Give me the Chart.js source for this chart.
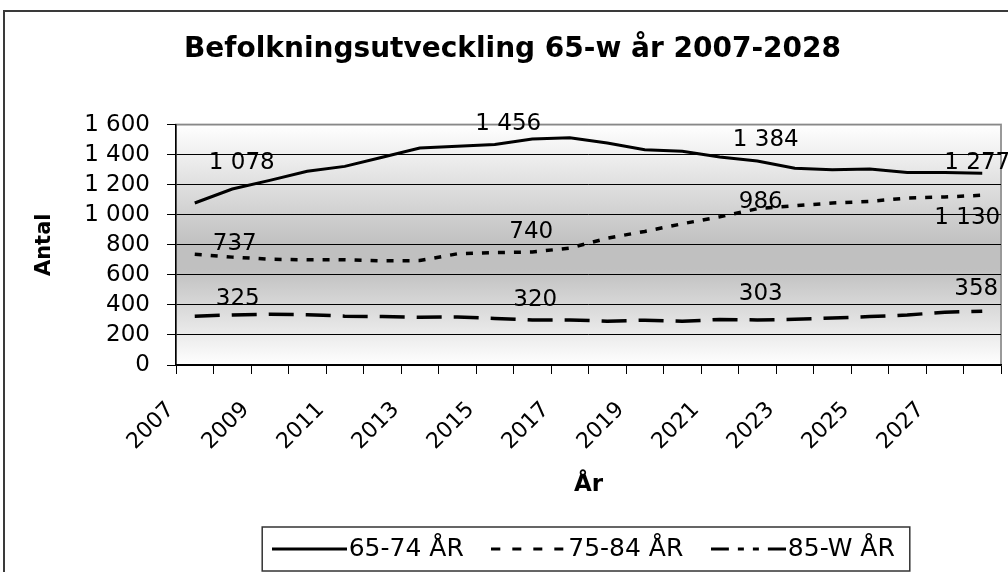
<!DOCTYPE html>
<html>
<head>
<meta charset="utf-8">
<script src="https://cdn.jsdelivr.net/npm/chart.js@4"></script>
<style>
  html, body { margin: 0; padding: 0; background: #fff; }
</style>
</head>
<body>
<canvas id="myChart" width="1008" height="572"></canvas>
<script>
const years = ["2007", "2008", "2009", "2010", "2011", "2012", "2013", "2014", "2015", "2016", "2017",
    "2018", "2019", "2020", "2021", "2022", "2023", "2024", "2025", "2026", "2027", "2028"];
const age65to74 = [1078, 1171, 1229, 1289, 1322, 1383, 1444, 1456, 1467, 1504, 1513,
    1477, 1433, 1422, 1384, 1358, 1309, 1300, 1304, 1282, 1282, 1277];
const age75to84 = [737, 718, 704, 700, 700, 693, 695, 740, 748, 752, 778,
    844, 889, 940, 986, 1040, 1060, 1078, 1089, 1111, 1118, 1130];
const age85up = [325, 333, 338, 335, 325, 322, 318, 320, 310, 300, 300,
    292, 298, 291, 303, 300, 304, 313, 322, 333, 351, 358];
const seriesNames = ["65-74 ÅR", "75-84 ÅR", "85-W ÅR"];
// years that carry a value label
const labelYears = ["2007", "2014", "2021", "2028"];

const fmt = v => v >= 1000 ? Math.floor(v / 1000) + " " + String(v % 1000).padStart(3, "0") : String(v);

Chart.defaults.font.family = "'DejaVu Sans', sans-serif";
Chart.defaults.color = "#000";

// little line samples for the legend
function sample(dash) {
    const c = document.createElement("canvas");
    c.width = 75;
    c.height = 8;
    const g = c.getContext("2d");
    g.strokeStyle = "#000";
    g.lineWidth = 3;
    g.setLineDash(dash);
    g.beginPath();
    g.moveTo(0, 4);
    g.lineTo(75, 4);
    g.stroke();
    return c;
}

// frame, gradient plot background
const background = {
    id: "background",
    beforeDraw(chart) {
        const { ctx, chartArea: a } = chart;
        ctx.save();
        ctx.fillStyle = "#fff";
        ctx.fillRect(0, 0, chart.width, chart.height);
        ctx.strokeStyle = "#3a3a3a";
        ctx.lineWidth = 2;
        ctx.strokeRect(4, 11, 1100, 700);
        const g = ctx.createLinearGradient(0, a.top, 0, a.bottom);
        g.addColorStop(0, "#ffffff");
        g.addColorStop(0.5, "#c0c0c0");
        g.addColorStop(0.6, "#c0c0c0");
        g.addColorStop(1, "#ffffff");
        ctx.fillStyle = g;
        ctx.fillRect(a.left, a.top, a.right - a.left, a.bottom - a.top);
        ctx.strokeStyle = "#999";
        ctx.lineWidth = 2;
        ctx.strokeRect(a.left, a.top, a.right - a.left, a.bottom - a.top);
        ctx.restore();
    }
};

// value labels next to a few points
const valueLabels = {
    id: "valueLabels",
    afterDatasetsDraw(chart, args, opts) {
        const ctx = chart.ctx;
        ctx.save();
        ctx.font = "23px 'DejaVu Sans'";
        ctx.fillStyle = "#000";
        ctx.textAlign = "center";
        ctx.textBaseline = "middle";
        chart.data.datasets.forEach((ds, di) => {
            const meta = chart.getDatasetMeta(di);
            labelYears.forEach((yr, k) => {
                const i = years.indexOf(yr);
                const pt = meta.data[i];
                const off = opts.offsets[di][k];
                ctx.fillText(fmt(ds.data[i]), pt.x + off[0], pt.y + off[1]);
            });
        });
        ctx.restore();
    }
};

// border round the legend
const legendBox = {
    id: "legendBox",
    afterDraw(chart) {
        const hb = chart.legend.legendHitBoxes;
        if (!hb || !hb.length) return;
        const ctx = chart.ctx;
        const left = Math.min(...hb.map(b => b.left)) - 20;
        const right = Math.max(...hb.map(b => b.left + b.width)) + 15;
        const cy = hb[0].top + hb[0].height / 2;
        ctx.save();
        ctx.strokeStyle = "#333";
        ctx.lineWidth = 1.5;
        ctx.strokeRect(left, cy - 22, right - left, 44);
        ctx.restore();
    }
};

const ctx = document.getElementById("myChart").getContext("2d");
new Chart(ctx, {
    type: "line",
    data: {
        labels: years,
        datasets: [{
            label: seriesNames[0],
            data: age65to74,
            borderColor: "#000",
            borderWidth: 3,
            pointRadius: 0,
            legendSample: sample([])
        }, {
            label: seriesNames[1],
            data: age75to84,
            borderColor: "#000",
            borderWidth: 3.5,
            borderDash: [7, 9],
            pointRadius: 0,
            legendSample: sample([9, 12])
        }, {
            label: seriesNames[2],
            data: age85up,
            borderColor: "#000",
            borderWidth: 3.5,
            borderDash: [25, 12],
            pointRadius: 0,
            legendSample: sample([18, 9, 6, 9, 6, 9, 18, 9])
        }]
    },
    options: {
        responsive: false,
        animation: false,
        layout: { padding: { left: 24, right: 7, top: 0, bottom: 0.5 } },
        plugins: {
            title: {
                display: true,
                text: "Befolkningsutveckling 65-w år 2007-2028",
                font: { size: 28, weight: "bold" },
                padding: { top: 33, bottom: 58 }
            },
            legend: {
                position: "bottom",
                fullSize: false,
                labels: {
                    usePointStyle: true,
                    pointStyleWidth: 54,
                    padding: 38,
                    font: { size: 25 },
                    generateLabels: chart => {
                        const items = Chart.defaults.plugins.legend.labels.generateLabels(chart);
                        items.forEach((it, i) => { it.pointStyle = chart.data.datasets[i].legendSample; });
                        return items;
                    }
                }
            },
            tooltip: { enabled: false },
            valueLabels: {
                offsets: [
                    [[47, -40], [51, -22], [46, -17], [-5, -10]],
                    [[40, -10], [74, -22], [41, -15], [-15, 23]],
                    [[43, -17], [78, -17], [41, -25], [-6, -22]]
                ]
            }
        },
        scales: {
            x: {
                offset: true,
                grid: { offset: true, drawOnChartArea: false, tickLength: 9, color: "#000", tickColor: "#000" },
                border: { color: "#000", width: 1.5 },
                ticks: {
                    autoSkip: false,
                    minRotation: 45,
                    maxRotation: 45,
                    labelOffset: -24,
                    padding: 23,
                    font: { size: 22 },
                    callback: (v, i) => i % 2 === 0 ? years[i] : ""
                },
                title: { display: true, text: "År", font: { size: 23, weight: "bold" }, padding: { top: 0, bottom: 0 } },
                afterFit: s => {
                    s.height = 133.5;
                    s.paddingLeft = 0;
                    s.paddingRight = 0;
                }
            },
            y: {
                min: 0,
                max: 1600,
                ticks: { stepSize: 200, autoSkip: false, padding: 17, font: { size: 23 }, callback: v => fmt(v) },
                grid: {
                    tickLength: 9,
                    lineWidth: 1,
                    tickColor: "#000",
                    color: c => (c.tick && c.tick.value === 1600) ? "#888" : "#000"
                },
                border: { color: "#000", width: 1.5 },
                title: { display: true, text: "Antal", font: { size: 21, weight: "bold" }, padding: { top: 8, bottom: 0 } },
                afterFit: s => { s.width = 152; }
            }
        }
    },
    plugins: [background, valueLabels, legendBox]
});
</script>
</body>
</html>
